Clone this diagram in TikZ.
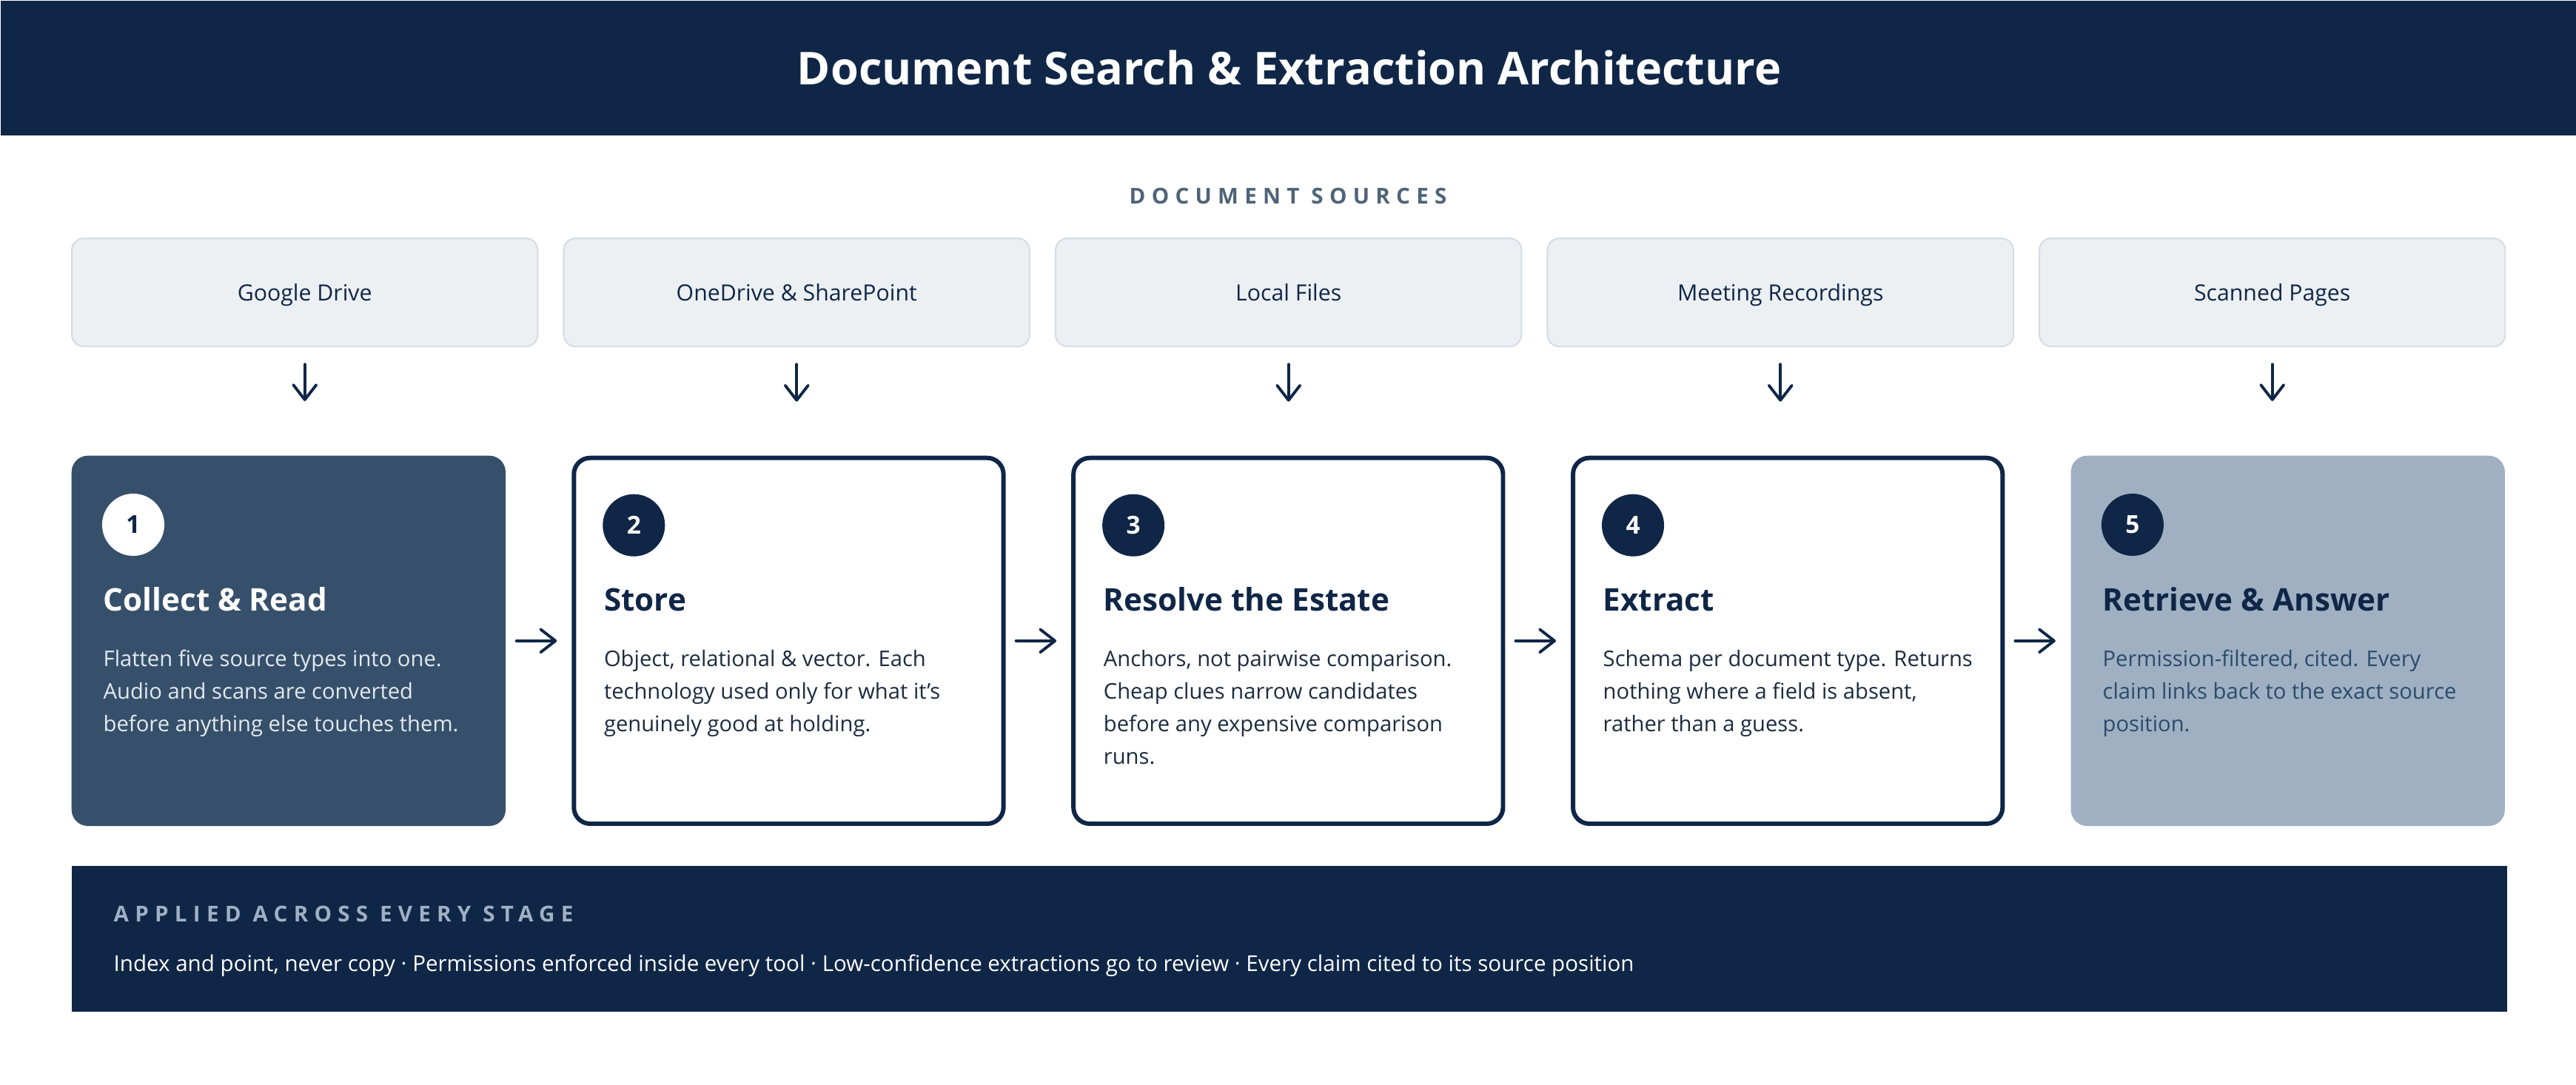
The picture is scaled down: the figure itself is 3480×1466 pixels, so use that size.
\documentclass[tikz,border=0pt]{standalone}
\usepackage{fontspec}
\setmainfont{Open Sans}
\newfontfamily\spacedcaps{Open Sans}[LetterSpace=28]
\usetikzlibrary{arrows.meta,positioning}

\definecolor{navy}{HTML}{0F2647}
\definecolor{slate}{HTML}{36506B}
\definecolor{mist}{HTML}{9EB0C2}
\definecolor{srcfill}{HTML}{ECF0F3}
\definecolor{srcline}{HTML}{D5DDE5}
\definecolor{capgray}{HTML}{4E6478}
\definecolor{bodyink}{HTML}{1C2B3F}
\definecolor{paleink}{HTML}{E3E9EF}
\definecolor{deepink}{HTML}{2C4A6B}

\tikzset{
	srcbox/.style={draw=srcline, line width=0.6pt, fill=srcfill, rounded corners=0.16cm, minimum width=6.29cm, minimum height=1.46cm, inner sep=0pt, text height=8pt, text depth=1.3pt, text=navy, font=\fontsize{8.6}{10}\selectfont},
	stagebox/.style={rounded corners=0.22cm, minimum width=5.86cm, minimum height=5cm, inner sep=0pt},
	openbox/.style={stagebox, draw=navy, line width=1.7pt, fill=white, minimum width=5.80cm, minimum height=4.94cm},
	numdot/.style={circle, minimum size=0.84cm, inner sep=0pt, font=\fontsize{9.5}{9.5}\selectfont\bfseries},
	stagetitle/.style={anchor=base west, inner sep=0pt, font=\fontsize{12}{14}\selectfont\bfseries},
	stagetext/.style={anchor=north west, inner sep=0pt, align=left, font=\fontsize{8.3}{12.52}\selectfont},
	spacedhead/.style={inner sep=0pt, font=\spacedcaps\fontsize{8.4}{9}\selectfont\bfseries},
	flow/.style={draw=navy, line width=1.1pt, line cap=round, -{Straight Barb[length=0.2cm, width=0.31cm, line join=round, line cap=round]}}
}

\begin{document}
\begin{tikzpicture}[x=0.01cm, y=-0.01cm]
	\useasboundingbox (0,0) rectangle (3480,1466);
	% header
	\node (header) [fill=navy, minimum width=34.8cm, minimum height=1.82cm, inner sep=0pt, anchor=north west] at (0,0) {};
	\node (title) [text=white, font=\fontsize{17.4}{19}\selectfont\bfseries] at (header.center) {Document Search \& Extraction Architecture};
	\node (srchead) [spacedhead, text=capgray, anchor=base] at (1740,275) {DOCUMENT SOURCES};

	% sources
	\node (src1) [srcbox, anchor=north west] at (96,321) {Google Drive};
	\node (src2) [srcbox, right=0.33cm of src1] {OneDrive \& SharePoint};
	\node (src3) [srcbox, right=0.33cm of src2] {Local Files};
	\node (src4) [srcbox, right=0.33cm of src3] {Meeting Recordings};
	\node (src5) [srcbox, right=0.33cm of src4] {Scanned Pages};

	% stages
	\node (s1) [stagebox, fill=slate, anchor=north west] at (96,615) {};
	\node (s2) [openbox, right=0.885cm of s1] {};
	\node (s3) [openbox, right=0.885cm of s2] {};
	\node (s4) [openbox, right=0.885cm of s3] {};
	\node (s5) [stagebox, fill=mist, right=0.885cm of s4] {};

	\foreach \i in {1,...,5}
		\draw [flow, shorten <=0.23cm, shorten >=0.73cm] (src\i.south) -- (src\i.south |- s\i.north);
	\foreach \i/\j in {1/2,2/3,3/4,4/5}
		\draw [flow, shorten <=0.14cm, shorten >=0.2cm] (s\i.east) -- (s\j.west);

	% stage 1
	\node (n1) [numdot, fill=white, text=navy] at ([shift={(84,94)}]s1.north west) {1};
	\node (t1) [stagetitle, text=white] at ([shift={(43,210)}]s1.north west) {Collect \& Read};
	\node (b1) [stagetext, text=paleink] at ([shift={(43,262)}]s1.north west) {Flatten five source types into one.\\Audio and scans are converted\\before anything else touches them.};
	% stage 2
	\node (n2) [numdot, fill=navy, text=white] at ([shift={(84,94)}]s2.north west) {2};
	\node (t2) [stagetitle, text=navy] at ([shift={(43,210)}]s2.north west) {Store};
	\node (b2) [stagetext, text=bodyink] at ([shift={(43,262)}]s2.north west) {Object, relational \& vector. Each\\technology used only for what it's\\genuinely good at holding.};
	% stage 3
	\node (n3) [numdot, fill=navy, text=white] at ([shift={(84,94)}]s3.north west) {3};
	\node (t3) [stagetitle, text=navy] at ([shift={(43,210)}]s3.north west) {Resolve the Estate};
	\node (b3) [stagetext, text=bodyink] at ([shift={(43,262)}]s3.north west) {Anchors, not pairwise comparison.\\Cheap clues narrow candidates\\before any expensive comparison\\runs.};
	% stage 4
	\node (n4) [numdot, fill=navy, text=white] at ([shift={(84,94)}]s4.north west) {4};
	\node (t4) [stagetitle, text=navy] at ([shift={(43,210)}]s4.north west) {Extract};
	\node (b4) [stagetext, text=bodyink] at ([shift={(43,262)}]s4.north west) {Schema per document type. Returns\\nothing where a field is absent,\\rather than a guess.};
	% stage 5
	\node (n5) [numdot, fill=navy, text=white] at ([shift={(84,94)}]s5.north west) {5};
	\node (t5) [stagetitle, text=navy] at ([shift={(43,210)}]s5.north west) {Retrieve \& Answer};
	\node (b5) [stagetext, text=deepink] at ([shift={(43,262)}]s5.north west) {Permission-filtered, cited. Every\\claim links back to the exact source\\position.};

	% bottom band
	\node (band) [fill=navy, minimum width=32.88cm, minimum height=1.97cm, inner sep=0pt, anchor=north west] at (96,1169) {};
	\node (bandhead) [spacedhead, text=mist, anchor=base west] at ([shift={(57,76)}]band.north west) {APPLIED ACROSS EVERY STAGE};
	\node (bandtext) [inner sep=0pt, text=white, anchor=base west, font=\fontsize{8.4}{10}\selectfont] at ([shift={(57,143)}]band.north west) {Index and point, never copy · Permissions enforced inside every tool · Low-confidence extractions go to review · Every claim cited to its source position};
\end{tikzpicture}
\end{document}
